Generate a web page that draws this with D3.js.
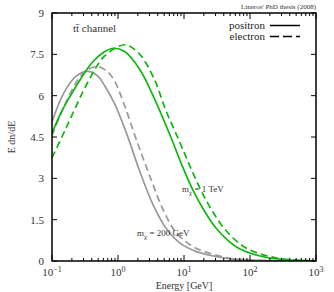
<!DOCTYPE html>
<html><head><meta charset="utf-8">
<script src="https://cdn.jsdelivr.net/npm/d3@7"></script>
<style>body{margin:0;background:#fff}svg{display:block}text{font-family:"Liberation Serif","DejaVu Serif",serif}</style>
</head><body><svg id="c" width="334" height="292"></svg>
<script>
// log10(E) grid and E dn/dE values
const graySolidLogE = [-1, -0.82, -0.64, -0.46, -0.3, -0.2, -0.05, 0.13, 0.33, 0.53, 0.74, 0.94, 1.19, 1.39, 1.7, 2, 2.5];
const graySolidVal  = [5.05, 6.1, 6.7, 6.88, 6.7, 6.35, 5.7, 4.63, 3.25, 2.05, 1.15, 0.65, 0.34, 0.21, 0.08, 0.03, 0.005];
const grayDashLogE  = [-1, -0.89, -0.74, -0.6, -0.46, -0.3, -0.15, -0.045, 0.106, 0.28, 0.485, 0.686, 0.89, 1.14, 1.39, 1.7, 2, 2.5];
const grayDashVal   = [4.55, 5.2, 6.0, 6.6, 6.95, 7.05, 6.85, 6.5, 5.6, 4.39, 3.06, 1.85, 1.0, 0.52, 0.28, 0.1, 0.035, 0.005];
const greenSolidLogE = [-1, -0.85, -0.73, -0.5, -0.375, -0.2, -0.07, 0.1, 0.33, 0.56, 0.8, 0.965, 1.14, 1.3, 1.5, 1.8, 2.15, 2.5, 3];
const greenSolidVal  = [4.65, 5.45, 5.96, 6.85, 7.25, 7.6, 7.72, 7.6, 6.95, 5.85, 4.5, 3.5, 2.55, 1.85, 1.15, 0.5, 0.18, 0.05, 0.005];
const greenDashLogE  = [-1, -0.85, -0.73, -0.53, -0.35, -0.22, 0, 0.13, 0.33, 0.55, 0.72, 0.92, 1.08, 1.26, 1.42, 1.62, 1.92, 2.27, 2.6, 3];
const greenDashVal   = [3.75, 4.5, 5.12, 6.15, 6.95, 7.4, 7.78, 7.84, 7.5, 6.6, 5.5, 4.4, 3.5, 2.55, 1.85, 1.15, 0.5, 0.18, 0.05, 0.005];
const yTicks = [0, 1.5, 3, 4.5, 6, 7.5, 9];
const yTickLabels = ["0", "1.5", "3", "4.5", "6", "7.5", "9"];
const xDecades = [-1, 0, 1, 2, 3];

const svg = d3.select("#c");
const L = 52, R = 316, T = 13, B = 261;
const x = d3.scaleLog().domain([0.1, 1000]).range([L, R]);
const y = d3.scaleLinear().domain([0, 9]).range([B, T]);

const series = [
  {e: graySolidLogE, v: graySolidVal, c: "#999999", dash: null},
  {e: grayDashLogE, v: grayDashVal, c: "#999999", dash: "7,4"},
  {e: greenSolidLogE, v: greenSolidVal, c: "#11b511", dash: null},
  {e: greenDashLogE, v: greenDashVal, c: "#11b511", dash: "7,4"}
];
svg.append("clipPath").attr("id","pc").append("rect").attr("x",L).attr("y",T).attr("width",R-L).attr("height",B-T);
const line = d3.line().x(d => x(Math.pow(10, d[0]))).y(d => y(d[1])).curve(d3.curveCatmullRom.alpha(0.5));
series.forEach(s => {
  svg.append("path").attr("clip-path","url(#pc)")
    .attr("d", line(s.e.map((e,i)=>[e, s.v[i]])))
    .attr("fill","none").attr("stroke", s.c).attr("stroke-width",1.7)
    .attr("stroke-dasharray", s.dash);
});

// ticks
const tk = svg.append("g").attr("stroke","#000").attr("stroke-width",1);
yTicks.forEach(t => {
  tk.append("line").attr("x1",L).attr("x2",L+5).attr("y1",y(t)).attr("y2",y(t));
  tk.append("line").attr("x1",R).attr("x2",R-5).attr("y1",y(t)).attr("y2",y(t));
});
xDecades.forEach(d => {
  const v = Math.pow(10,d);
  tk.append("line").attr("x1",x(v)).attr("x2",x(v)).attr("y1",B).attr("y2",B-6);
  tk.append("line").attr("x1",x(v)).attr("x2",x(v)).attr("y1",T).attr("y2",T+6);
  if (d < 3) for (let m=2;m<=9;m++){
    const mv = m*v;
    tk.append("line").attr("x1",x(mv)).attr("x2",x(mv)).attr("y1",B).attr("y2",B-3);
    tk.append("line").attr("x1",x(mv)).attr("x2",x(mv)).attr("y1",T).attr("y2",T+3);
  }
});
svg.append("rect").attr("x",L).attr("y",T).attr("width",R-L).attr("height",B-T)
  .attr("fill","none").attr("stroke","#000").attr("stroke-width",1.5);

// y labels
yTicks.forEach((t,i) => {
  svg.append("text").attr("x",L-8).attr("y",y(t)+4).attr("text-anchor","end")
    .attr("font-size",11).attr("fill","#333").text(yTickLabels[i]);
});
// x labels
xDecades.forEach(d => {
  const tx = svg.append("text").attr("x",x(Math.pow(10,d))).attr("y",276).attr("text-anchor","middle")
    .attr("font-size",11).attr("fill","#333");
  tx.append("tspan").text("10");
  tx.append("tspan").attr("dy",-4).attr("font-size",8).text(String(d).replace("-","−"));
});
svg.append("text").attr("x",184).attr("y",289).attr("text-anchor","middle").attr("font-size",10).attr("fill","#333").text("Energy [GeV]");
svg.append("text").attr("transform","translate(15,137) rotate(-90)").attr("text-anchor","middle").attr("font-size",10).attr("fill","#333").text("E dn/dE");

svg.append("text").attr("x",316).attr("y",9).attr("text-anchor","end").attr("font-size",7).attr("fill","#333").text("Lineros' PhD thesis (2008)");
svg.append("text").attr("x",73).attr("y",32).attr("font-size",11).attr("fill","#333").text("tt\u0304  channel");

// legend
svg.append("text").attr("x",265).attr("y",29).attr("text-anchor","end").attr("font-size",11).attr("fill","#222").text("positron");
svg.append("text").attr("x",265).attr("y",40).attr("text-anchor","end").attr("font-size",11).attr("fill","#222").text("electron");
svg.append("line").attr("x1",270).attr("x2",300).attr("y1",25.5).attr("y2",25.5).attr("stroke","#000").attr("stroke-width",1.5);
svg.append("line").attr("x1",270).attr("x2",300).attr("y1",36.5).attr("y2",36.5).attr("stroke","#000").attr("stroke-width",1.5).attr("stroke-dasharray","9,4");

// annotations
const a1 = svg.append("text").attr("x",182).attr("y",192).attr("font-size",9).attr("fill","#333");
a1.append("tspan").text("m");
a1.append("tspan").attr("dy",3).attr("font-size",7).text("χ");
a1.append("tspan").attr("dy",-3).text(" = 1 TeV");
const a2 = svg.append("text").attr("x",137).attr("y",236).attr("font-size",9).attr("fill","#333");
a2.append("tspan").text("m");
a2.append("tspan").attr("dy",3).attr("font-size",7).text("χ");
a2.append("tspan").attr("dy",-3).text(" = 200 GeV");
</script></body></html>
